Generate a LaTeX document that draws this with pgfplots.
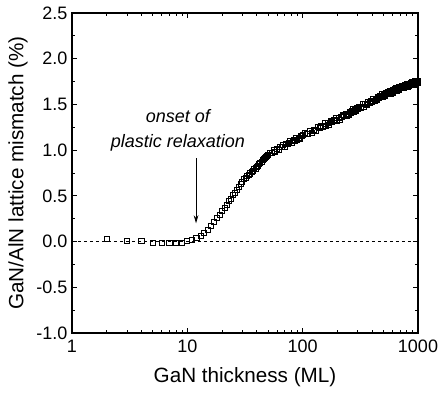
\documentclass[border=0pt]{standalone}
\usepackage{pgfplots}
\pgfplotsset{compat=1.18}
\usepackage{pgfplotstable}
\usepackage{fontspec}
\setmainfont{Liberation Sans}
\usetikzlibrary{arrows.meta}
\pgfplotstableread{
x y
2 0.025
3 0.010
4 0.010
5 -0.015
6 -0.018
7 -0.018
8 -0.015
9 -0.012
10 0.010
11 0.020
12 0.040
13 0.065
14 0.095
15 0.130
16 0.175
17 0.215
18 0.255
19 0.290
20 0.330
21 0.370
22 0.405
23 0.440
24 0.470
25 0.505
26 0.535
27 0.565
28 0.600
29 0.630
30 0.655
31 0.680
32 0.700
33 0.715
34 0.730
35 0.745
36 0.760
37 0.775
38 0.790
39 0.800
40 0.815
41 0.830
42 0.845
43 0.860
44 0.875
45 0.890
46 0.900
47 0.915
48 0.925
49 0.935
50 0.945
52 0.968
54 0.967
56 0.997
58 0.980
60 1.009
62 1.002
64 1.040
66 1.036
68 1.057
70 1.037
72 1.070
74 1.066
76 1.080
78 1.100
80 1.082
82 1.103
84 1.115
86 1.102
88 1.138
90 1.110
92 1.134
94 1.122
96 1.155
98 1.158
100 1.164
105 1.185
110 1.177
115 1.215
120 1.193
125 1.222
130 1.211
135 1.249
140 1.244
145 1.269
150 1.258
155 1.292
160 1.267
165 1.294
170 1.279
175 1.314
180 1.307
185 1.330
190 1.317
195 1.349
200 1.323
205 1.348
210 1.332
215 1.367
220 1.360
225 1.382
230 1.369
235 1.401
240 1.374
245 1.399
250 1.383
255 1.417
260 1.409
265 1.430
270 1.416
275 1.447
280 1.420
285 1.444
290 1.427
295 1.460
300 1.451
310 1.477
320 1.467
330 1.501
340 1.477
350 1.504
360 1.490
370 1.525
380 1.519
390 1.542
400 1.529
410 1.562
420 1.535
430 1.561
440 1.545
450 1.579
460 1.571
470 1.593
480 1.578
490 1.609
500 1.581
510 1.605
520 1.588
530 1.621
540 1.611
550 1.632
560 1.616
570 1.647
580 1.618
590 1.641
600 1.624
610 1.656
620 1.646
630 1.666
640 1.650
650 1.679
660 1.650
670 1.673
680 1.655
690 1.686
700 1.676
710 1.695
720 1.677
730 1.706
740 1.676
750 1.697
760 1.678
770 1.708
780 1.697
790 1.716
800 1.698
810 1.726
820 1.696
830 1.717
840 1.698
850 1.728
860 1.716
870 1.735
880 1.717
890 1.745
900 1.714
910 1.736
920 1.716
930 1.746
940 1.734
950 1.752
960 1.734
970 1.762
980 1.731
990 1.752
1000 1.732
}\datatable
\begin{document}
\begin{tikzpicture}
\begin{axis}[
  scale only axis, width=259.5pt, height=240pt,
  xmode=log, xmin=1, xmax=1000, ymin=-1, ymax=2.5,
  xtick={1,10,100,1000}, xticklabels={1,10,100,1000},
  ytick={-1,-0.5,0,0.5,1,1.5,2,2.5},
  minor y tick num=1,
  yticklabel style={/pgf/number format/.cd,fixed,fixed zerofill,precision=1},
  /pgf/number format/assume math mode=true,
  tick label style={font=\fontsize{13.5}{16}\selectfont},
  xticklabel style={yshift=-2pt},
  label style={font=\fontsize{15.5}{18}\selectfont},
  xlabel={GaN thickness (ML)},
  ylabel={GaN/AlN lattice mismatch (\%)},
  xlabel style={at={(axis description cs:0.5,-0.1375)}, anchor=center},
  ylabel style={at={(axis description cs:-0.156,0.5)}, anchor=center},
  major tick length=3.75pt, minor tick length=2.25pt,
  tick style={black, line width=0.6pt},
  axis line style={line width=0.8pt},
  clip=false,
]
\addplot[black, line width=0.6pt, dash pattern=on 2.5pt off 2pt] coordinates {(1,0) (1000,0)};
\addplot[only marks, mark=square, mark size=1.9pt, mark options={black, line width=0.65pt}] table[x=x,y=y] {\datatable};
\node[align=center, font=\itshape\fontsize{13.5}{18.75}\selectfont] at (axis cs:8.3,1.215) {onset of\\plastic relaxation};
\draw[-{Stealth[length=6pt,width=3.5pt]}, line width=0.6pt] (axis cs:11.9,0.91) -- (axis cs:11.9,0.2);
\end{axis}
\pgfresetboundingbox
\path[use as bounding box] ([shift={(-54pt,-48pt)}]current axis.south west) rectangle ([shift={(16.5pt,9.75pt)}]current axis.north east);
\end{tikzpicture}
\end{document}
